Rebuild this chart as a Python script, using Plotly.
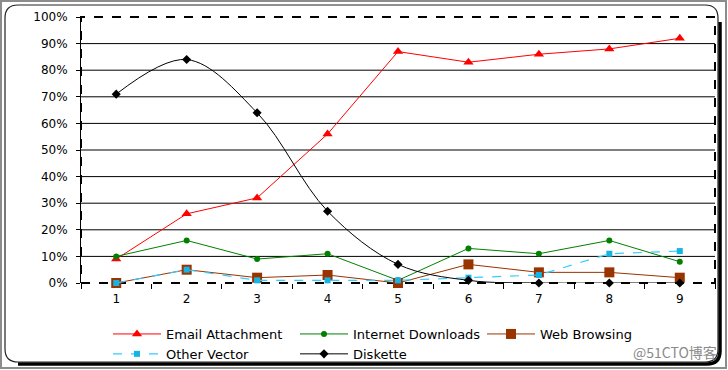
import plotly.graph_objects as go

# ---- data ----
periods = [1, 2, 3, 4, 5, 6, 7, 8, 9]
email_attachment = [0.09, 0.26, 0.32, 0.56, 0.87, 0.83, 0.86, 0.88, 0.92]
internet_downloads = [0.10, 0.16, 0.09, 0.11, 0.01, 0.13, 0.11, 0.16, 0.08]
web_browsing = [0.00, 0.05, 0.02, 0.03, 0.00, 0.07, 0.04, 0.04, 0.02]
other_vector = [0.00, 0.05, 0.01, 0.01, 0.01, 0.02, 0.03, 0.11, 0.12]
diskette = [0.71, 0.84, 0.64, 0.27, 0.07, 0.01, 0.00, 0.00, 0.00]
y_ticks = [0, 0.1, 0.2, 0.3, 0.4, 0.5, 0.6, 0.7, 0.8, 0.9, 1.0]

W_IMG, H_IMG = 728, 370
L, R, T, B = 81, 715, 17, 283
PW, PH = R - L, B - T


def px(x):
    return (x - L) / PW


def py(y):
    return (B - y) / PH


FONT = "DejaVu Sans"

fig = go.Figure()
fig.add_trace(go.Scatter(x=periods, y=email_attachment, name="Email Attachment",
                         mode="lines+markers", cliponaxis=False,
                         line=dict(color="#FF0000", width=1),
                         marker=dict(symbol="triangle-up", size=9, color="#FF0000")))
fig.add_trace(go.Scatter(x=periods, y=internet_downloads, name="Internet Downloads",
                         mode="lines+markers", cliponaxis=False,
                         line=dict(color="#008000", width=1),
                         marker=dict(symbol="circle", size=6, color="#008000")))
fig.add_trace(go.Scatter(x=periods, y=web_browsing, name="Web Browsing",
                         mode="lines+markers", cliponaxis=False,
                         line=dict(color="#993300", width=1),
                         marker=dict(symbol="square", size=10, color="#993300")))
fig.add_trace(go.Scatter(x=periods, y=other_vector, name="Other Vector",
                         mode="lines+markers", cliponaxis=False,
                         line=dict(color="#33CCFF", width=1.2, dash="dash"),
                         marker=dict(symbol="square", size=6, color="#14B4E6")))
fig.add_trace(go.Scatter(x=periods, y=diskette, name="Diskette",
                         mode="lines+markers", cliponaxis=False,
                         line=dict(color="#000000", width=1, shape="spline", smoothing=1),
                         marker=dict(symbol="diamond", size=7, color="#000000")))

shapes = []
# horizontal gridlines
for v in y_ticks[1:-1]:
    shapes.append(dict(type="line", xref="paper", yref="y", x0=0, x1=1, y0=v, y1=v,
                       line=dict(color="#000000", width=1), layer="below"))
# dashed plot-area border
shapes.append(dict(type="rect", xref="paper", yref="paper", x0=0, x1=1, y0=0, y1=1,
                   line=dict(color="#000000", width=2, dash="dash"), layer="below"))

# rounded frame
fx0, fy0, fx1, fy1, r = 5, 5, 718, 362, 13


def rr_path(x0, y0, x1, y1, r):
    return (f"M {px(x0 + r)},{py(y0)} L {px(x1 - r)},{py(y0)} "
            f"Q {px(x1)},{py(y0)} {px(x1)},{py(y0 + r)} "
            f"L {px(x1)},{py(y1 - r)} Q {px(x1)},{py(y1)} {px(x1 - r)},{py(y1)} "
            f"L {px(x0 + r)},{py(y1)} Q {px(x0)},{py(y1)} {px(x0)},{py(y1 - r)} "
            f"L {px(x0)},{py(y0 + r)} Q {px(x0)},{py(y0)} {px(x0 + r)},{py(y0)} Z")


# shadow right/bottom
sh = 2
shadow = (f"M {px(fx1 + sh)},{py(fy0 + r + 4)} L {px(fx1 + sh)},{py(fy1 - r + sh)} "
          f"Q {px(fx1 + sh)},{py(fy1 + sh)} {px(fx1 - r + sh)},{py(fy1 + sh)} "
          f"L {px(fx0 + r)},{py(fy1 + sh)}")
shapes.append(dict(type="path", xref="paper", yref="paper", path=shadow,
                   line=dict(color="#000000", width=3.5), layer="below"))
shapes.append(dict(type="path", xref="paper", yref="paper", path=rr_path(fx0, fy0, fx1, fy1, r),
                   line=dict(color="#222222", width=1.2), layer="below"))
# outer gray border of the picture
shapes.append(dict(type="rect", xref="paper", yref="paper",
                   x0=px(1), x1=px(W_IMG - 2), y0=py(1), y1=py(H_IMG - 2),
                   line=dict(color="#8C8C8C", width=2), layer="below"))

fig.update_layout(
    width=W_IMG, height=H_IMG, autosize=False,
    margin=dict(l=L, r=W_IMG - R, t=T, b=H_IMG - B, pad=0, autoexpand=False),
    paper_bgcolor="#FFFFFF", plot_bgcolor="#FFFFFF",
    font=dict(family=FONT, size=12, color="#000000"),
    shapes=shapes,
    showlegend=True,
    legend=dict(orientation="h", x=px(108), y=py(319), xanchor="left", yanchor="top",
                font=dict(family=FONT, size=13, color="#000000"),
                itemwidth=48, entrywidth=124, entrywidthmode="pixels",
                bgcolor="rgba(0,0,0,0)", traceorder="normal", tracegroupgap=0),
    annotations=[dict(text="@51CTO博客", xref="paper", yref="paper",
                      x=px(719), y=py(352), xanchor="right", yanchor="middle",
                      showarrow=False,
                      font=dict(family="Noto Sans CJK SC", size=14, color="#8A8A8A"))],
)
fig.update_xaxes(range=[0.5, 9.5], tickvals=periods, ticktext=[str(p) for p in periods],
                 ticks="", showgrid=False, zeroline=False, showline=False,
                 ticklabelstandoff=7,
                 tickfont=dict(family=FONT, size=12, color="#000000"),
                 minor=dict(tick0=0.5, dtick=1, ticks="outside", ticklen=5,
                            tickcolor="#000000", tickwidth=1, showgrid=False))
fig.update_yaxes(range=[0, 1], tickvals=y_ticks, tickformat=".0%",
                 ticks="outside", ticklen=4, tickcolor="#000000",
                 ticklabelstandoff=6,
                 showgrid=False, zeroline=False, showline=True,
                 linecolor="#000000", linewidth=1,
                 tickfont=dict(family=FONT, size=12, color="#000000"))

fig.write_html("out.html")
